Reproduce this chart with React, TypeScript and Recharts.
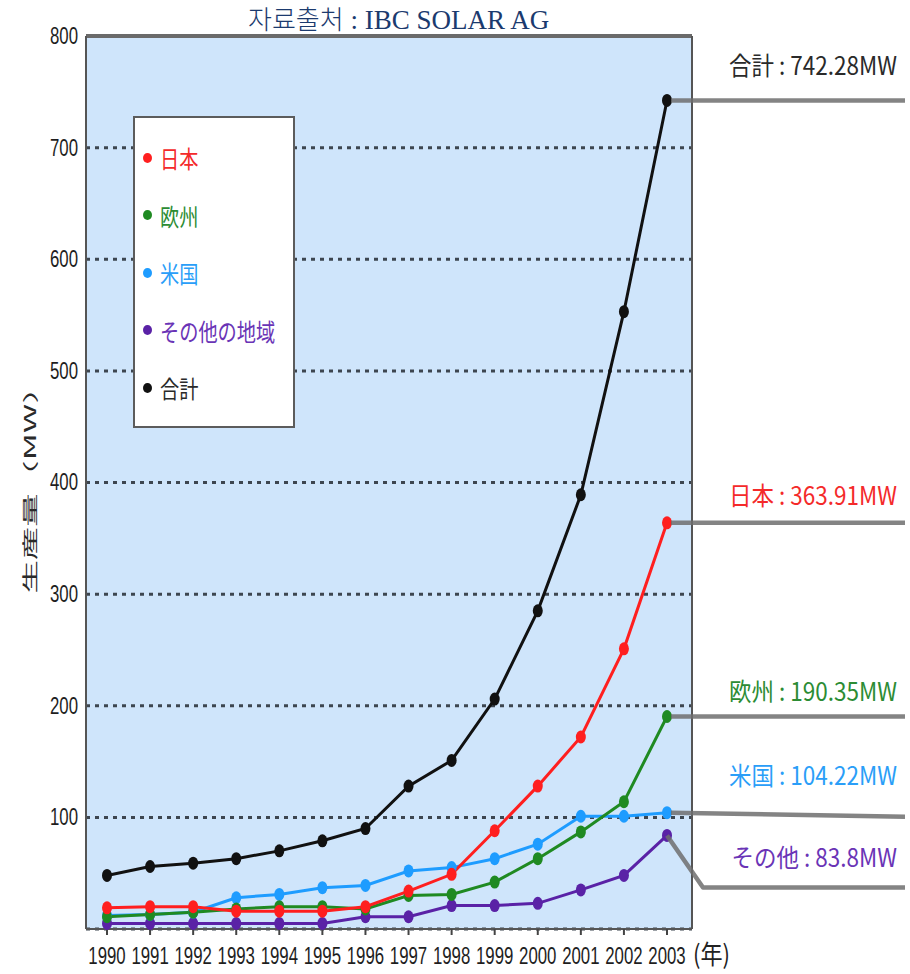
import { LineChart, Line, XAxis, YAxis, CartesianGrid, Legend } from 'recharts'

const YEARS = ['1990', '1991', '1992', '1993', '1994', '1995', '1996', '1997', '1998', '1999', '2000', '2001', '2002', '2003']

// 生産量 (MW)
const JAPAN = [19, 20, 20, 16, 16, 16, 20, 34, 49, 88, 128, 172, 251, 363.91]
const EUROPE = [11, 13, 15, 18, 20, 20, 18, 30, 31, 42, 63, 87, 114, 190.35]
const USA = [12, 13, 15, 28, 31, 37, 39, 52, 55, 63, 76, 101, 101, 104.22]
const OTHERS = [5, 5, 5, 5, 5, 5, 11, 11, 21, 21, 23, 35, 48, 83.8]
const TOTAL = [48, 56, 59, 63, 70, 79, 90, 128, 151, 206, 285, 389, 553, 742.28]

const Y_TICKS = [100, 200, 300, 400, 500, 600, 700, 800]

const data = YEARS.map((year, i) => ({
  year,
  japan: JAPAN[i],
  europe: EUROPE[i],
  usa: USA[i],
  others: OTHERS[i],
  total: TOTAL[i],
}))

const NUM_FONT = "'Liberation Sans', Arial, sans-serif"
const CJK_FONT = "'Noto Sans CJK JP', 'Noto Sans', sans-serif"

// drawn bottom to top
const SERIES = [
  { key: 'others', name: 'その他の地域', tag: 'その他', color: '#5a22a6', text: '#6a34b6', textDy: 32, kink: 36, drop: 52 },
  { key: 'usa', name: '米国', tag: '米国', color: '#1e9cff', text: '#2a9ef8', textDy: -28, kink: 0, drop: 4 },
  { key: 'europe', name: '欧州', tag: '欧州', color: '#1f8a22', text: '#2c8c34', textDy: -16, kink: 0, drop: 0 },
  { key: 'japan', name: '日本', tag: '日本', color: '#ff1f1f', text: '#f42a2a', textDy: -18, kink: 0, drop: 0 },
  { key: 'total', name: '合計', tag: '合計', color: '#111111', text: '#2a2a2a', textDy: -25, kink: 0, drop: 0 },
]

const LEGEND_ORDER = ['japan', 'europe', 'usa', 'others', 'total']

function YearTick({ x, y, payload }: any) {
  return (
    <text
      x={x}
      y={y}
      dy={27}
      textAnchor="middle"
      fill="#1e1e1e"
      fontSize={24}
      fontFamily={NUM_FONT}
      transform={`translate(${x} ${y}) scale(0.7 1) translate(${-x} ${-y})`}
    >
      {payload.value}
    </text>
  )
}

function ValueTick({ x, y, payload }: any) {
  return (
    <text
      x={x}
      y={y}
      dy={8}
      textAnchor="end"
      fill="#1e1e1e"
      fontSize={24}
      fontFamily={NUM_FONT}
      transform={`translate(${x} ${y}) scale(0.7 1) translate(${-x} ${-y})`}
    >
      {payload.value}
    </text>
  )
}

const makeDot = (key: string, color: string) => (p: any) => (
  <ellipse key={`${key}-${p.index}`} cx={p.cx} cy={p.cy} rx={5} ry={6.5} fill={color} />
)

// leader line out of the plot plus the end value
const makeEndLabel = (s: (typeof SERIES)[number]) => (p: any) => {
  if (p.index !== YEARS.length - 1) return <g key={`${s.key}-lbl-${p.index}`} />
  const { x, y, value } = p
  const endX = 905
  const ky = y + s.drop
  const d = s.kink
    ? `M${x},${y} L${x + s.kink},${ky} L${endX},${ky}`
    : `M${x + 4},${y} L${endX},${ky}`
  const tx = 897
  const ty = y + s.textDy
  return (
    <g key={`${s.key}-lbl`}>
      <path d={d} fill="none" stroke="#6e6e6e" strokeWidth={4.5} strokeLinejoin="round" opacity={0.85} />
      <text
        x={tx}
        y={ty}
        textAnchor="end"
        fill={s.text}
        fontSize={25}
        fontFamily={CJK_FONT}
        transform={`translate(${tx} ${ty}) scale(0.9 1) translate(${-tx} ${-ty})`}
      >
        {`${s.tag} : ${value}MW`}
      </text>
    </g>
  )
}

function LegendBox({ payload }: any) {
  const items = [...(payload ?? [])].sort(
    (a: any, b: any) => LEGEND_ORDER.indexOf(a.dataKey) - LEGEND_ORDER.indexOf(b.dataKey)
  )
  return (
    <div
      style={{
        width: 162,
        height: 312,
        boxSizing: 'border-box',
        border: '2px solid #5c5c5c',
        background: '#ffffff',
        paddingTop: 11,
      }}
    >
      {items.map((it: any) => {
        const s = SERIES.find(d => d.key === it.dataKey)
        return (
          <div key={it.dataKey} style={{ height: 57.5, display: 'flex', alignItems: 'center' }}>
            <span
              style={{
                width: 9,
                height: 10,
                borderRadius: '50%',
                background: it.color,
                marginLeft: 8,
                marginRight: 8,
                flex: 'none',
              }}
            />
            <span
              style={{
                display: 'inline-block',
                color: s?.text ?? it.color,
                fontFamily: CJK_FONT,
                fontSize: 24,
                whiteSpace: 'nowrap',
                transform: 'scaleX(0.8)',
                transformOrigin: 'left center',
              }}
            >
              {it.value}
            </span>
          </div>
        )
      })}
    </div>
  )
}

export default function App() {
  return (
    <div style={{ position: 'absolute', left: 0, top: 0, width: 910, height: 974, background: '#fff' }}>
      <div
        style={{
          position: 'absolute',
          left: 248,
          top: 3,
          color: '#1b3a6e',
          whiteSpace: 'nowrap',
          fontSize: 27,
          lineHeight: '30px',
        }}
      >
        <span style={{ fontFamily: "'Noto Sans CJK KR', sans-serif", fontWeight: 300, fontSize: 26 }}>자료출처</span>
        <span style={{ fontFamily: "'Liberation Serif', 'Times New Roman', serif" }}> : IBC SOLAR AG</span>
      </div>

      <LineChart
        width={910}
        height={974}
        data={data}
        margin={{ top: 35, right: 217, bottom: 0, left: 0 }}
        style={{ position: 'absolute', left: 0, top: 0 }}
      >
        <CartesianGrid
          vertical={false}
          fill="#cfe5fb"
          fillOpacity={1}
          stroke="#3d4650"
          strokeWidth={3}
          strokeDasharray="4 5"
        />
        <XAxis
          dataKey="year"
          interval={0}
          padding={{ left: 21, right: 25 }}
          height={45}
          tickSize={6}
          tickLine={{ stroke: '#444', strokeWidth: 2 }}
          axisLine={{ stroke: '#555', strokeWidth: 2 }}
          tick={<YearTick />}
        />
        <XAxis
          xAxisId="top"
          orientation="top"
          dataKey="year"
          height={1}
          padding={{ left: 21, right: 25 }}
          tick={false}
          tickLine={false}
          axisLine={{ stroke: '#6a6a6a', strokeWidth: 4 }}
        />
        <YAxis
          width={86}
          domain={[0, 800]}
          ticks={Y_TICKS}
          interval={0}
          tickLine={false}
          axisLine={{ stroke: '#555', strokeWidth: 2 }}
          tick={<ValueTick />}
        />
        <YAxis
          yAxisId="right"
          orientation="right"
          width={1}
          domain={[0, 800]}
          tick={false}
          tickLine={false}
          axisLine={{ stroke: '#555', strokeWidth: 2 }}
        />
        <Legend
          layout="vertical"
          align="center"
          verticalAlign="middle"
          content={<LegendBox />}
          wrapperStyle={{ left: 133, top: 116, width: 162, height: 312 }}
        />
        {SERIES.map(s => (
          <Line
            key={s.key}
            type="linear"
            dataKey={s.key}
            name={s.name}
            stroke={s.color}
            strokeWidth={3}
            dot={makeDot(s.key, s.color)}
            activeDot={false}
            label={makeEndLabel(s)}
            isAnimationActive={false}
          />
        ))}
      </LineChart>

      <div
        style={{
          position: 'absolute',
          left: 30,
          top: 482,
          width: 0,
          height: 0,
        }}
      >
        <div
          style={{
            position: 'absolute',
            left: 0,
            top: 0,
            transform: 'translate(-50%, -50%) rotate(-90deg) scale(1.45, 0.68)',
            whiteSpace: 'nowrap',
            fontFamily: CJK_FONT,
            fontSize: 23,
            color: '#2a2a2a',
            lineHeight: 1,
          }}
        >
          生産量（MW）
        </div>
      </div>

      <div
        style={{
          position: 'absolute',
          left: 693,
          top: 940,
          fontFamily: CJK_FONT,
          fontSize: 26,
          color: '#222',
          lineHeight: 1,
          transform: 'scaleX(0.85)',
          transformOrigin: 'left center',
          whiteSpace: 'nowrap',
        }}
      >
        (年)
      </div>
    </div>
  )
}
